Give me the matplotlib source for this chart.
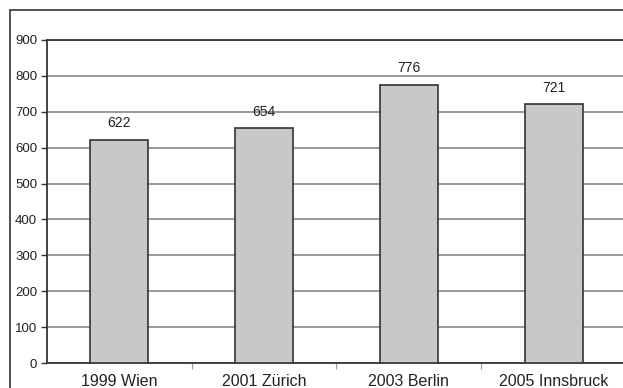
import matplotlib
matplotlib.use("Agg")
import matplotlib.pyplot as plt
from matplotlib.patches import Rectangle

categories = ["1999 Wien", "2001 Zürich", "2003 Berlin", "2005 Innsbruck"]
values = [622, 654, 776, 721]
y_ticks = [0, 100, 200, 300, 400, 500, 600, 700, 800, 900]

plt.rcParams["font.family"] = ["Liberation Sans", "DejaVu Sans"]

W, H = 623, 388
fig = plt.figure(figsize=(W / 100, H / 100), dpi=100)
fig.patch.set_facecolor("white")

# outer frame around the chart area
fig.add_artist(Rectangle((10 / W, -0.05), 1.1, (H - 10) / H + 0.05,
                         transform=fig.transFigure, fill=False,
                         edgecolor="#333333", linewidth=1.2))

ax = fig.add_axes([47 / W, 25 / H, 579 / W, 323 / H])
x = range(len(categories))
ax.bar(x, values, width=0.40, color="#c8c8c8", edgecolor="#333333",
       linewidth=1.2, zorder=3)

for xi, v in zip(x, values):
    ax.annotate(str(v), (xi, v), xytext=(0, 7), textcoords="offset points",
                ha="center", va="bottom", fontsize=10, color="#222222")

ax.set_xlim(-0.5, len(categories) - 0.5)
ax.set_ylim(0, 900)
ax.set_yticks(y_ticks)
ax.yaxis.grid(True, color="#8a8a8a", linewidth=1.2, zorder=0)
ax.tick_params(axis="y", length=4, width=1, color="#333333",
               labelsize=9.5, labelcolor="#222222", pad=3)

# boundary ticks between categories, labels centred on the bars
ax.set_xticks([0.5, 1.5, 2.5])
ax.set_xticklabels([])
ax.tick_params(axis="x", which="major", length=4, width=0.8, color="#999999")
ax.set_xticks(list(x), minor=True)
ax.set_xticklabels(categories, minor=True)
ax.tick_params(axis="x", which="minor", length=0, labelsize=11.5,
               labelcolor="#222222", pad=8)

for side in ("left", "bottom", "top"):
    ax.spines[side].set_color("#333333")
    ax.spines[side].set_linewidth(1.3)
ax.spines["right"].set_visible(False)

fig.savefig("out.png", dpi=100, facecolor="white")
